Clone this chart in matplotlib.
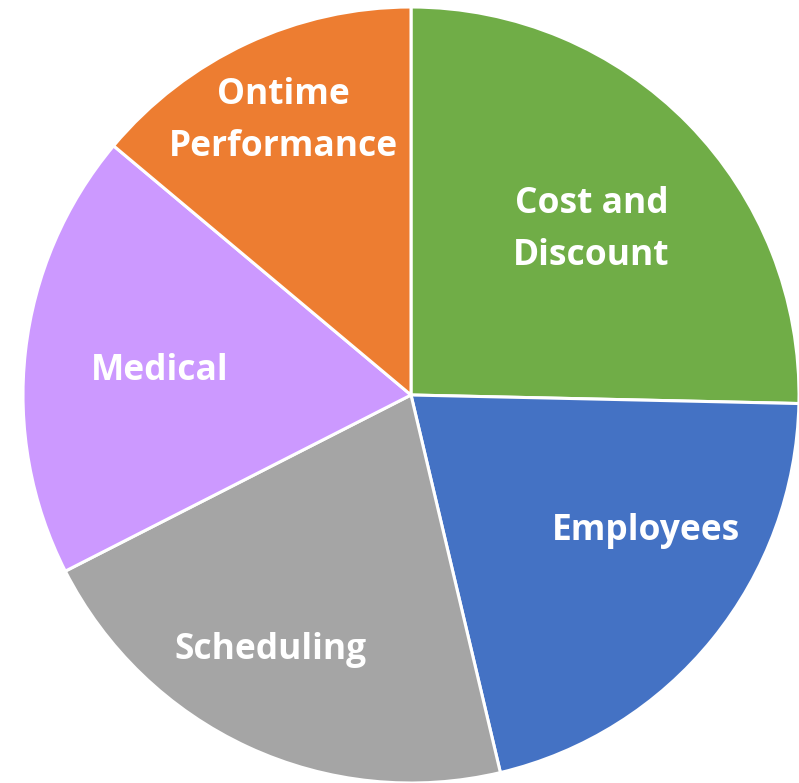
import numpy as np
import matplotlib

matplotlib.use("Agg")
import matplotlib.pyplot as plt

# slice shares, clockwise from 12 o'clock
categories = ["Cost and\nDiscount", "Employees", "Scheduling", "Medical", "Ontime\nPerformance"]
shares = [25.35, 20.95, 21.2, 18.6, 13.9]
colors = ["#70AD47", "#4472C4", "#A5A5A5", "#CC99FF", "#ED7D31"]

# label placement (fraction of radius, angle shift in degrees)
label_radius = [0.63, 0.70, 0.75, 0.65, 0.78]
label_shift = [-2, 9, -4, 1, 0]

fig = plt.figure(figsize=(7.99, 7.83), dpi=100)
ax = fig.add_axes([0, 0, 1, 1])
wedges, _ = ax.pie(shares, colors=colors, startangle=90, counterclock=False,
                   wedgeprops=dict(edgecolor="white", linewidth=2.2))

for wedge, name, r, shift in zip(wedges, categories, label_radius, label_shift):
    mid = np.deg2rad((wedge.theta1 + wedge.theta2) / 2 + shift)
    ax.text(r * np.cos(mid), r * np.sin(mid), name, ha="center", va="center",
            color="white", fontsize=25.5, fontweight="bold", family="Open Sans",
            linespacing=1.6)

ax.set_aspect("auto")
ax.set_xlim(-411 / 388, 388 / 388)
ax.set_ylim(-388 / 388, 395 / 388)
ax.axis("off")

fig.savefig("out.png", dpi=100)
